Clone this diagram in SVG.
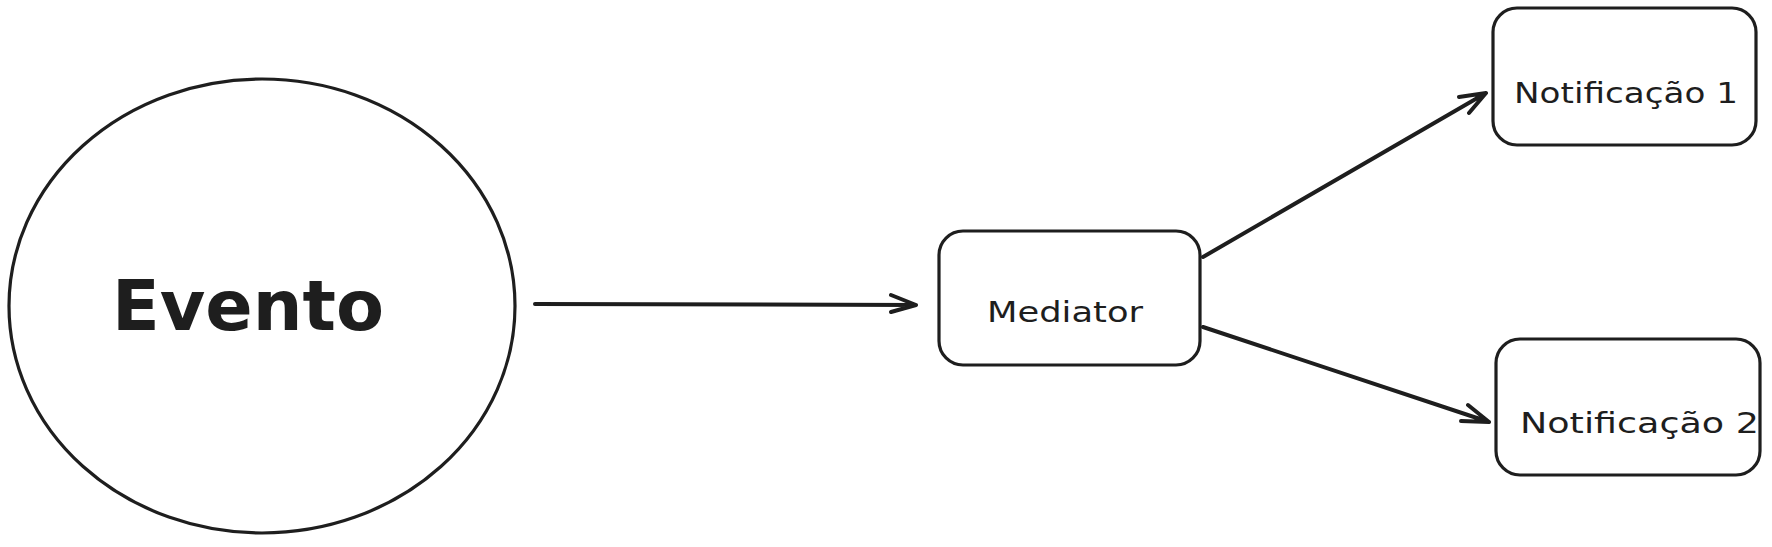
<svg xmlns="http://www.w3.org/2000/svg" width="1772" height="547" viewBox="0 0 1772 547">
<style>
.shape{fill:none;stroke:#1e1e1e;stroke-width:3.2;stroke-linecap:round;stroke-linejoin:round}
.conn{fill:none;stroke:#1e1e1e;stroke-width:4;stroke-linecap:round;stroke-linejoin:round}
.lbl{font-family:"DejaVu Sans","Liberation Sans",sans-serif;fill:#1e1e1e}
.big{font-size:70px;font-weight:bold}
.small{font-size:29px}
</style>
<rect width="1772" height="547" fill="#ffffff"/>
<g id="evento">
<ellipse class="shape" cx="262" cy="306" rx="253" ry="227"/>
<text class="lbl big" x="112" y="330" textLength="272" lengthAdjust="spacingAndGlyphs">Evento</text>
</g>
<g id="mediator">
<rect class="shape" x="939" y="231" width="261" height="134" rx="24"/>
<text class="lbl small" x="987" y="322" textLength="156" lengthAdjust="spacingAndGlyphs">Mediator</text>
</g>
<g id="notificacao1">
<rect class="shape" x="1493" y="8" width="263" height="137" rx="24"/>
<text class="lbl small" x="1514" y="103" textLength="224" lengthAdjust="spacingAndGlyphs">Notificação 1</text>
</g>
<g id="notificacao2">
<rect class="shape" x="1496" y="339" width="264" height="136" rx="24"/>
<text class="lbl small" x="1520" y="433" textLength="239" lengthAdjust="spacingAndGlyphs">Notificação 2</text>
</g>
<g id="connectors">
<path class="conn" d="M535 304 L916 305 M891 295 L916 305 L891 312"/>
<path class="conn" d="M1203 257 L1486 93 M1459 97 L1486 93 L1469 113"/>
<path class="conn" d="M1203 327 L1489 422 M1468 405 L1489 422 L1461 421"/>
</g>
</svg>
